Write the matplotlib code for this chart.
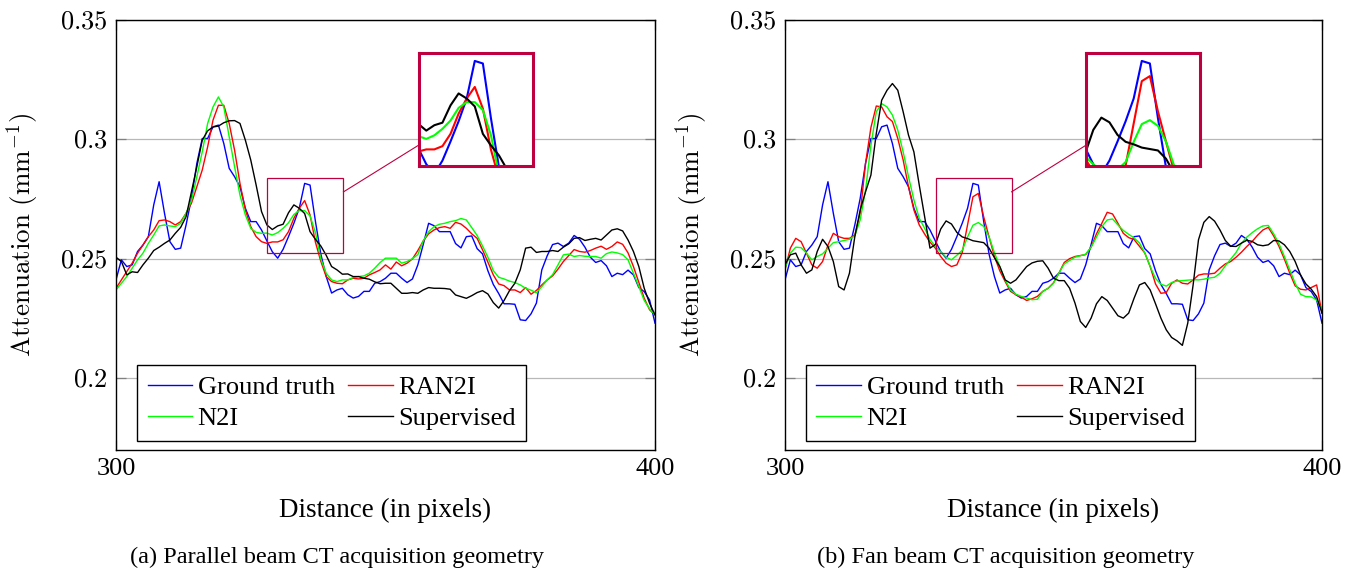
import matplotlib
matplotlib.use('Agg')
import matplotlib.pyplot as plt
from matplotlib.lines import Line2D
from matplotlib.patches import Rectangle
import numpy as np

## ----------------------------------------------------------------------------
## Data: line profiles from pixel 300 to 400
## ----------------------------------------------------------------------------
distance = list(range(300, 401))

ground_truth = [
    .2412, .2496, .2468, .2475, .2531, .2558, .2593, .2726, .2823, .2691,
    .2572, .2540, .2545, .2642, .2753, .2900, .3004, .3004, .3053, .3060,
    .2983, .2879, .2844, .2802, .2712, .2656, .2656, .2621, .2575, .2530,
    .2503, .2540, .2593, .2649, .2712, .2816, .2809, .2657, .2520, .2426,
    .2357, .2370, .2377, .2350, .2336, .2343, .2364, .2364, .2398, .2405,
    .2419, .2440, .2440, .2419, .2401, .2416, .2475, .2560, .2649, .2639,
    .2614, .2614, .2614, .2564, .2546, .2593, .2596, .2543, .2521, .2450,
    .2393, .2355, .2312, .2312, .2310, .2245, .2242, .2270, .2315, .2454,
    .2513, .2560, .2566, .2552, .2566, .2598, .2582, .2549, .2507, .2485,
    .2493, .2471, .2426, .2440, .2434, .2453, .2433, .2380, .2363, .2328,
    .2231]

## (a) parallel beam
ran2i_parallel = [
    .2377, .2412, .2447, .2482, .2524, .2558, .2593, .2621, .2660, .2663,
    .2656, .2642, .2656, .2691, .2733, .2802, .2872, .2969, .3081, .3143,
    .3143, .3067, .2955, .2816, .2705, .2635, .2593, .2572, .2565, .2571,
    .2571, .2580, .2614, .2670, .2712, .2744, .2684, .2570, .2490, .2426,
    .2405, .2398, .2396, .2412, .2419, .2416, .2419, .2433, .2443, .2454,
    .2475, .2457, .2487, .2471, .2482, .2500, .2535, .2575, .2605, .2621,
    .2631, .2635, .2628, .2653, .2646, .2628, .2605, .2586, .2538, .2486,
    .2433, .2395, .2388, .2370, .2370, .2359, .2380, .2352, .2368, .2391,
    .2412, .2429, .2457, .2489, .2514, .2539, .2531, .2528, .2535, .2545,
    .2553, .2540, .2552, .2571, .2561, .2525, .2468, .2402, .2335, .2287,
    .2266]

n2i_parallel = [
    .2370, .2398, .2426, .2461, .2496, .2524, .2565, .2600, .2638, .2642,
    .2638, .2635, .2649, .2691, .2744, .2844, .2948, .3067, .3136, .3178,
    .3136, .3011, .2886, .2767, .2684, .2628, .2611, .2607, .2608, .2600,
    .2610, .2628, .2651, .2686, .2702, .2702, .2680, .2610, .2500, .2440,
    .2412, .2405, .2412, .2412, .2422, .2426, .2429, .2440, .2461, .2485,
    .2503, .2503, .2503, .2482, .2489, .2501, .2518, .2575, .2614, .2635,
    .2645, .2649, .2656, .2660, .2669, .2663, .2631, .2598, .2554, .2507,
    .2451, .2423, .2416, .2407, .2401, .2391, .2377, .2369, .2358, .2384,
    .2412, .2434, .2475, .2517, .2520, .2510, .2514, .2511, .2510, .2510,
    .2503, .2522, .2529, .2525, .2518, .2496, .2440, .2384, .2326, .2291,
    .2266]

supervised_parallel = [
    .2507, .2489, .2433, .2446, .2443, .2475, .2503, .2535, .2549, .2565,
    .2579, .2607, .2632, .2677, .2781, .2886, .2997, .3036, .3052, .3056,
    .3070, .3078, .3079, .3067, .2997, .2914, .2809, .2698, .2642, .2623,
    .2638, .2645, .2693, .2726, .2712, .2690, .2614, .2582, .2554, .2515,
    .2468, .2454, .2436, .2437, .2426, .2426, .2419, .2415, .2404, .2396,
    .2398, .2398, .2377, .2356, .2356, .2359, .2356, .2370, .2380, .2377,
    .2377, .2376, .2373, .2349, .2342, .2335, .2346, .2359, .2367, .2353,
    .2317, .2294, .2326, .2367, .2398, .2454, .2545, .2549, .2527, .2531,
    .2531, .2535, .2531, .2549, .2563, .2586, .2589, .2577, .2582, .2586,
    .2579, .2600, .2621, .2626, .2617, .2579, .2531, .2468, .2377, .2314,
    .2266]

## (b) fan beam
ran2i_fan = [
    .2454, .2545, .2586, .2572, .2524, .2475, .2461, .2489, .2558, .2607,
    .2593, .2586, .2586, .2600, .2691, .2900, .3050, .3140, .3136, .3095,
    .3075, .3004, .2914, .2802, .2705, .2642, .2604, .2570, .2545, .2510,
    .2482, .2468, .2475, .2526, .2643, .2760, .2774, .2676, .2592, .2510,
    .2450, .2405, .2364, .2350, .2340, .2326, .2333, .2343, .2364, .2377,
    .2400, .2440, .2485, .2501, .2510, .2514, .2518, .2549, .2605, .2649,
    .2695, .2688, .2649, .2607, .2589, .2581, .2553, .2525, .2468, .2395,
    .2356, .2359, .2398, .2412, .2398, .2395, .2412, .2432, .2437, .2437,
    .2440, .2461, .2479, .2489, .2507, .2528, .2552, .2573, .2599, .2621,
    .2632, .2596, .2552, .2499, .2440, .2387, .2373, .2370, .2380, .2391,
    .2273]

n2i_fan = [
    .2461, .2524, .2549, .2547, .2524, .2496, .2510, .2521, .2545, .2568,
    .2572, .2577, .2582, .2596, .2663, .2788, .2976, .3116, .3150, .3136,
    .3102, .3039, .2948, .2844, .2747, .2670, .2628, .2582, .2551, .2530,
    .2507, .2496, .2515, .2536, .2592, .2641, .2652, .2636, .2592, .2526,
    .2468, .2412, .2370, .2352, .2343, .2336, .2329, .2331, .2364, .2377,
    .2398, .2440, .2479, .2493, .2507, .2513, .2520, .2549, .2591, .2635,
    .2663, .2667, .2642, .2619, .2603, .2588, .2567, .2525, .2468, .2418,
    .2394, .2386, .2401, .2407, .2409, .2411, .2413, .2412, .2415, .2420,
    .2423, .2440, .2471, .2499, .2527, .2566, .2591, .2610, .2626, .2638,
    .2640, .2605, .2563, .2510, .2454, .2398, .2352, .2342, .2341, .2328,
    .2287]

supervised_fan = [
    .2475, .2517, .2524, .2475, .2440, .2454, .2531, .2582, .2552, .2489,
    .2384, .2370, .2440, .2593, .2705, .2781, .2851, .3025, .3164, .3206,
    .3234, .3206, .3116, .3018, .2948, .2809, .2677, .2545, .2560, .2625,
    .2659, .2646, .2611, .2592, .2585, .2576, .2572, .2568, .2545, .2505,
    .2468, .2412, .2398, .2412, .2440, .2468, .2483, .2490, .2492, .2461,
    .2419, .2409, .2409, .2377, .2315, .2238, .2213, .2252, .2312, .2342,
    .2326, .2294, .2262, .2252, .2273, .2335, .2391, .2401, .2370, .2312,
    .2252, .2203, .2171, .2157, .2138, .2231, .2391, .2580, .2653, .2677,
    .2658, .2621, .2577, .2553, .2552, .2566, .2578, .2573, .2559, .2555,
    .2559, .2577, .2575, .2559, .2531, .2489, .2433, .2395, .2373, .2342,
    .2273]

series_names = ['Ground truth', 'RAN2I', 'N2I', 'Supervised']
series_colours = ['#0000ff', '#ff0000', '#00ff00', '#000000']

x_ticks = [300, 400]
y_ticks = [0.2, 0.25, 0.3, 0.35]
y_tick_labels = ['0.2', '0.25', '0.3', '0.35']

## region shown magnified in the inset
zoom_x = [328.1, 342.2]
zoom_y = [0.2525, 0.2838]

captions = ['(a) Parallel beam CT acquisition geometry',
            '(b) Fan beam CT acquisition geometry']

SPY = '#bf0040'
W, H = 1352, 574


## ----------------------------------------------------------------------------
## Main code block
## ----------------------------------------------------------------------------
def main():
    plt.rcParams['font.family'] = ['Liberation Serif', 'DejaVu Serif']
    plt.rcParams['mathtext.fontset'] = 'cm'

    fig = plt.figure(figsize=(W / 100, H / 100), dpi=100)

    parallel = [ground_truth, ran2i_parallel, n2i_parallel, supervised_parallel]
    fan = [ground_truth, ran2i_fan, n2i_fan, supervised_fan]

    plotPanel(fig, (116, 655), 419, parallel, captions[0])
    plotPanel(fig, (785, 1322), 1086, fan, captions[1])

    fig.savefig('out.png', dpi=100)


## ----------------------------------------------------------------------------
## One sub figure: profile plot, legend, magnified inset and caption
## ----------------------------------------------------------------------------
def plotPanel(fig, xpix, insetLeft, curves, caption):
    top, bottom = 20, 450
    ax = fig.add_axes([xpix[0] / W, (H - bottom) / H,
                       (xpix[1] - xpix[0]) / W, (bottom - top) / H])

    lines = []
    for values, name, colour in zip(curves, series_names, series_colours):
        line, = ax.plot(distance, values, color=colour, lw=1.0, label=name)
        lines.append(line)

    ax.set_xlim(300, 400)
    ax.set_ylim(0.17, 0.35)
    ax.set_xticks(x_ticks)
    ax.set_xticklabels([str(t) for t in x_ticks])
    ax.set_yticks(y_ticks)
    ax.set_yticklabels(['$' + t + '$' for t in y_tick_labels])
    ax.yaxis.grid(True, color='#b8b8b8', lw=0.9)
    ax.set_axisbelow(True)
    ax.tick_params(direction='in', length=7, width=0.9, color='#808080',
                   top=True, right=True, labelsize=19, pad=6)
    for s in ax.spines.values():
        s.set_linewidth(1.0)

    ax.set_xlabel('Distance (in pixels)', fontsize=19.5, va='baseline')
    ax.xaxis.set_label_coords(0.5, -(517 - bottom) / (bottom - top))
    ax.set_ylabel(r'$\mathrm{Attenuation\ (mm}^{-1}\mathrm{)}$', fontsize=19.5,
                  va='center')
    ax.yaxis.set_label_coords(-93 / (xpix[1] - xpix[0]), 0.5)

    ## legend in two rows, matplotlib fills columns first
    order = [0, 2, 1, 3]
    leg = ax.legend([lines[i] for i in order], [series_names[i] for i in order],
                    ncol=2, loc='lower left', bbox_to_anchor=(0.039, 0.021),
                    borderaxespad=0, fontsize=19, fancybox=False,
                    edgecolor='black', framealpha=1, handlelength=1.7,
                    handletextpad=0.2, columnspacing=0.5, labelspacing=0.31,
                    borderpad=0.4)
    leg.get_frame().set_linewidth(1.0)

    ## magnified inset
    axIn = fig.add_axes([insetLeft / W, (H - 166) / H, 114 / W, 113 / H])
    for values, colour in zip(curves, series_colours):
        axIn.plot(distance, values, color=colour, lw=1.5)
    axIn.set_xlim(zoom_x)
    axIn.set_ylim(zoom_y)
    axIn.set_xticks([])
    axIn.set_yticks([])
    for s in axIn.spines.values():
        s.set_color(SPY)
        s.set_linewidth(2.2)

    ax.add_patch(Rectangle((zoom_x[0], zoom_y[0]), zoom_x[1] - zoom_x[0],
                           zoom_y[1] - zoom_y[0], fill=False, ec=SPY, lw=0.9,
                           zorder=5))

    ## connector between the two boxes, along the line joining their centres
    srcBox = ax.transData.transform([(zoom_x[0], zoom_y[0]), (zoom_x[1], zoom_y[1])])
    dstBox = axIn.transAxes.transform([(0, 0), (1, 1)])
    cA, cB = srcBox.mean(axis=0), dstBox.mean(axis=0)
    hA, hB = (srcBox[1] - srcBox[0]) / 2, (dstBox[1] - dstBox[0]) / 2
    d = cB - cA
    tA = min(hA[0] / abs(d[0]), hA[1] / abs(d[1]))
    tB = min(hB[0] / abs(d[0]), hB[1] / abs(d[1]))
    pts = fig.transFigure.inverted().transform([cA + tA * d, cB - tB * d])
    fig.add_artist(Line2D(pts[:, 0], pts[:, 1], color=SPY, lw=0.8,
                          transform=fig.transFigure))

    ## caption
    centre = (xpix[0] + xpix[1]) / 2 - 48
    fig.text(centre / W, (H - 563) / H, caption, ha='center', va='baseline',
             fontsize=17.5)


## ----------------------------------------------------------------------------
if __name__ == "__main__":
    main()
